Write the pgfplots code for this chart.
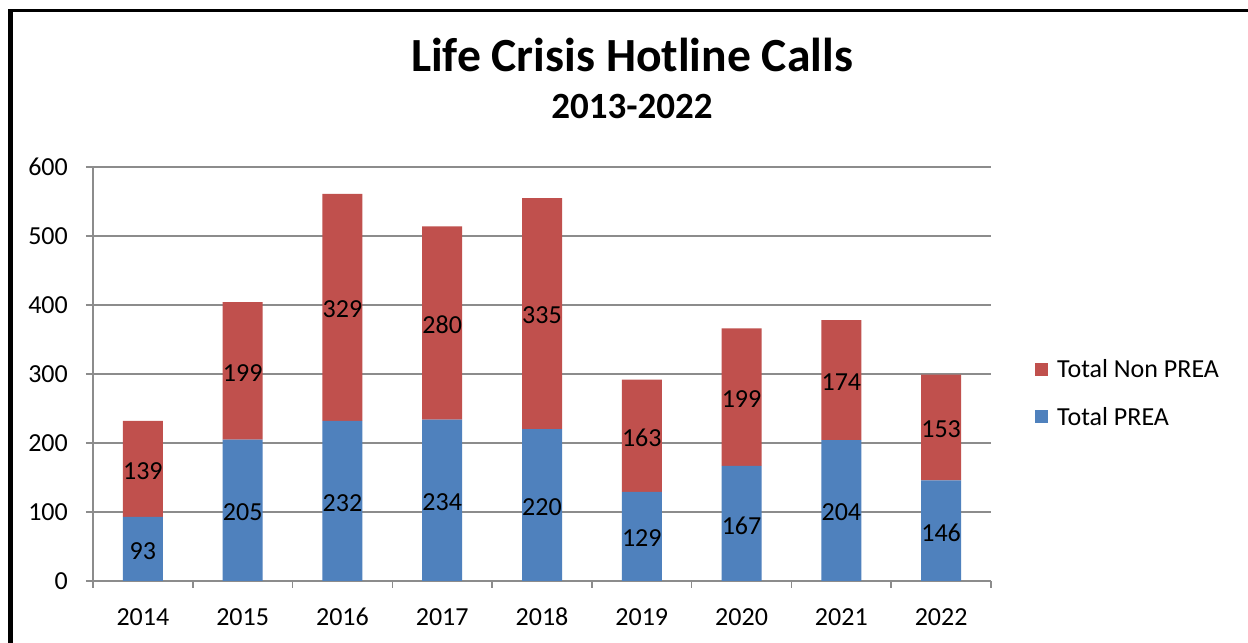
\documentclass[border=0pt]{standalone}
\usepackage{fontspec}
\setmainfont{Carlito}
\usepackage{pgfplots}
\usepackage{pgfplotstable}
\pgfplotsset{compat=1.18}
\definecolor{preablue}{RGB}{79,129,189}
\definecolor{nonred}{RGB}{192,80,77}
\definecolor{gridgray}{RGB}{140,140,140}
\pgfplotstableread{
x a b
0 93 139
1 205 199
2 232 329
3 234 280
4 220 335
5 129 163
6 167 199
7 204 174
8 146 153
}\datatable
\newcommand{\lblfont}{\fontsize{26bp}{30bp}\selectfont}
\begin{document}
\begin{tikzpicture}[x=1bp,y=1bp]
\useasboundingbox (0,0) rectangle (1248,643);
\fill[white] (0,0) rectangle (1248,643);
\begin{axis}[
  at={(93bp,62bp)}, anchor=south west,
  scale only axis, width=898bp, height=414bp,
  xmin=-0.5, xmax=8.5, ymin=0, ymax=600,
  ybar stacked, bar width=40bp,
  axis x line*=bottom, axis y line*=left,
  axis line style={gridgray, line width=1.5bp},
  xtick={-0.5,0.5,...,8.5},
  x tick label as interval,
  xticklabels={2014,2015,2016,2017,2018,2019,2020,2021,2022},
  ytick={0,100,...,600},
  ymajorgrids, major grid style={gridgray, line width=1.5bp},
  tick align=outside,
  major tick length=7bp,
  tick style={gridgray, line width=1.5bp},
  /pgf/number format/assume math mode=true,
  ticklabel style={font=\lblfont, text=black},
  yticklabel style={inner sep=0pt, xshift=-18bp},
  xticklabel style={inner sep=0pt, yshift=-20bp},
  legend style={draw=none, fill=none, inner sep=0pt, font=\lblfont,
    at={(1.049,0.454)}, anchor=west, row sep=28bp,
    nodes={inner sep=0pt, anchor=west},
    /tikz/every odd column/.append style={column sep=9bp}},
  legend cell align=left,
  reverse legend,
  legend image code/.code={\fill[#1] (0bp,-6.5bp) rectangle (13bp,6.5bp);},
]
\addplot[fill=preablue, draw=none] table[x=x, y=a] \datatable;
\addlegendentry{Total PREA}
\addplot[fill=nonred, draw=none] table[x=x, y=b] \datatable;
\addlegendentry{Total Non PREA}
\end{axis}
\begin{axis}[
  at={(93bp,62bp)}, anchor=south west,
  scale only axis, width=898bp, height=414bp,
  xmin=-0.5, xmax=8.5, ymin=0, ymax=600,
  axis lines=none, clip=false,
  every node near coord/.style={anchor=center, font=\lblfont, text=black, inner sep=0pt, yshift=-2bp},
]
\addplot[only marks, mark=none, nodes near coords, point meta=explicit symbolic]
  table[x=x, y expr=\thisrow{a}/2, meta=a] \datatable;
\addplot[only marks, mark=none, nodes near coords, point meta=explicit symbolic]
  table[x=x, y expr=\thisrow{a}+\thisrow{b}/2, meta=b] \datatable;
\end{axis}
\node[anchor=base, font=\bfseries\fontsize{47.6bp}{57bp}\selectfont] at (632,571) {Life Crisis Hotline Calls};
\node[anchor=base, font=\bfseries\fontsize{37bp}{44bp}\selectfont] at (632,524) {2013-2022};
\fill[black] (8.3,0) rectangle (13.3,634);
\fill[black] (8.3,630.7) rectangle (1248,634);
\end{tikzpicture}
\end{document}
